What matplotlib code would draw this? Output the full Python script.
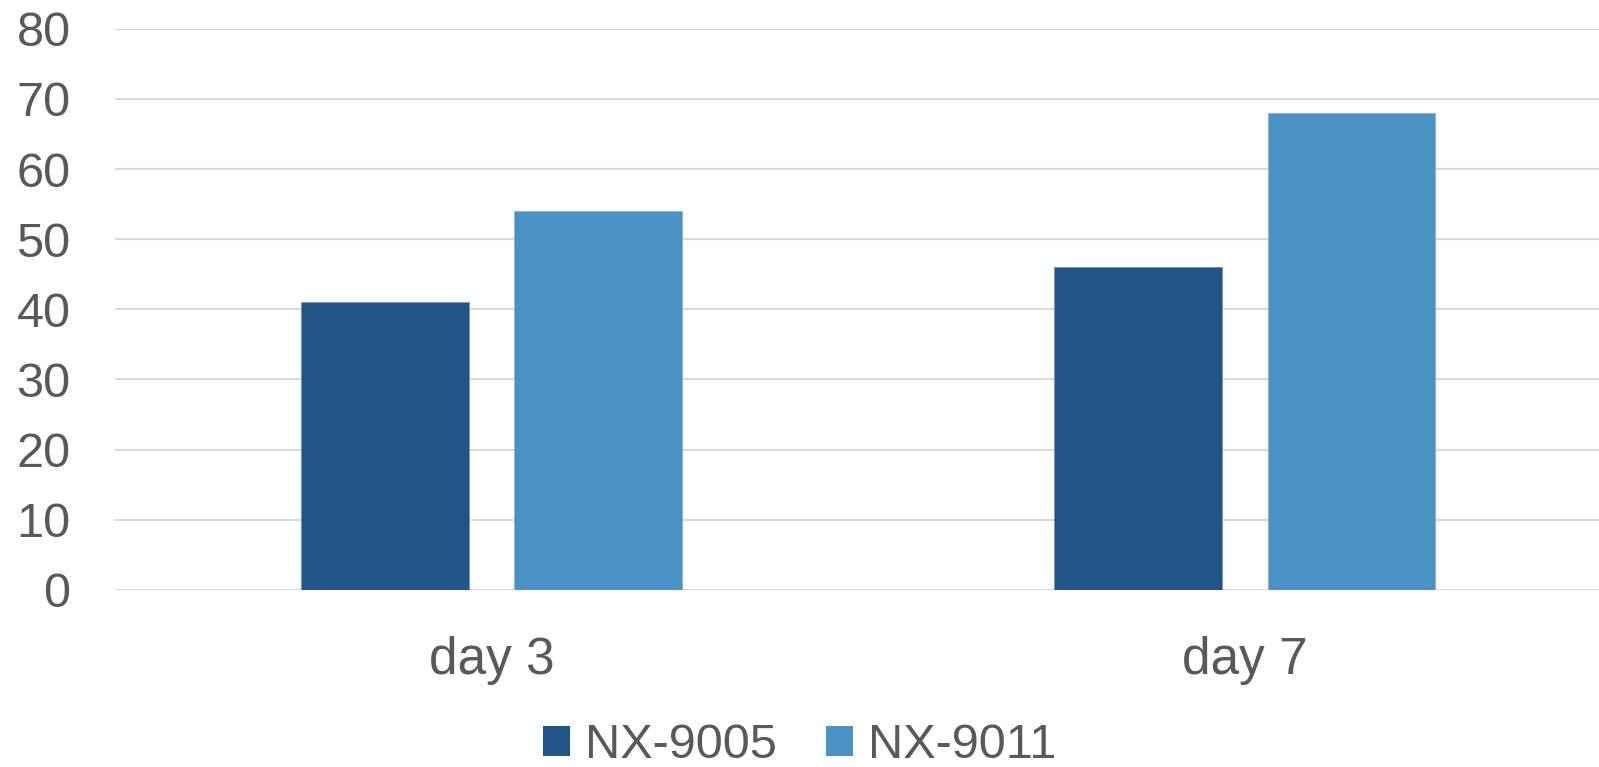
import numpy as np
import matplotlib
matplotlib.use('Agg')
import matplotlib.pyplot as plt
from matplotlib.patches import Patch

categories = ['day 3', 'day 7']
series_names = ['NX-9005', 'NX-9011']
nx9005 = [41, 46]
nx9011 = [54, 68]
colors = ['#215587', '#4A92C4']

plt.rcParams['font.family'] = ['Liberation Sans', 'DejaVu Sans']
text_color = '#595959'

fig = plt.figure(figsize=(15.99, 7.67), dpi=100)
# axes runs past the right edge, like the cropped original
ax = fig.add_axes([0.0719, 0.2308, 0.9419, 0.7318])

x = np.arange(len(categories))
w = 0.223
off = 0.142
ax.bar(x - off, nx9005, w, color=colors[0], edgecolor='#6f93b8', linewidth=0.6, zorder=3)
ax.bar(x + off, nx9011, w, color=colors[1], edgecolor='#8ab4d6', linewidth=0.6, zorder=3)

ax.set_xlim(-0.5, 1.5)
ax.set_ylim(0, 80)
ax.set_yticks(range(0, 81, 10))
ax.set_xticks(x)
ax.set_xticklabels(categories)

ax.yaxis.grid(True, color='#D9D9D9', linewidth=1.5, zorder=0)
ax.set_axisbelow(True)
for s in ax.spines.values():
    s.set_visible(False)
ax.tick_params(axis='y', length=0, pad=32, labelsize=35, labelcolor=text_color)
ax.tick_params(axis='x', length=0, pad=33, labelsize=37, labelcolor=text_color)

handles = [Patch(facecolor=c, edgecolor='none') for c in colors]
fig.legend(handles, series_names, loc='lower center', bbox_to_anchor=(0.5, -0.058),
           ncol=2, frameon=False, fontsize=35, labelcolor=text_color,
           handlelength=0.57, handleheight=0.57, handletextpad=0.3, columnspacing=1.0)

fig.savefig('out.png', dpi=100)
